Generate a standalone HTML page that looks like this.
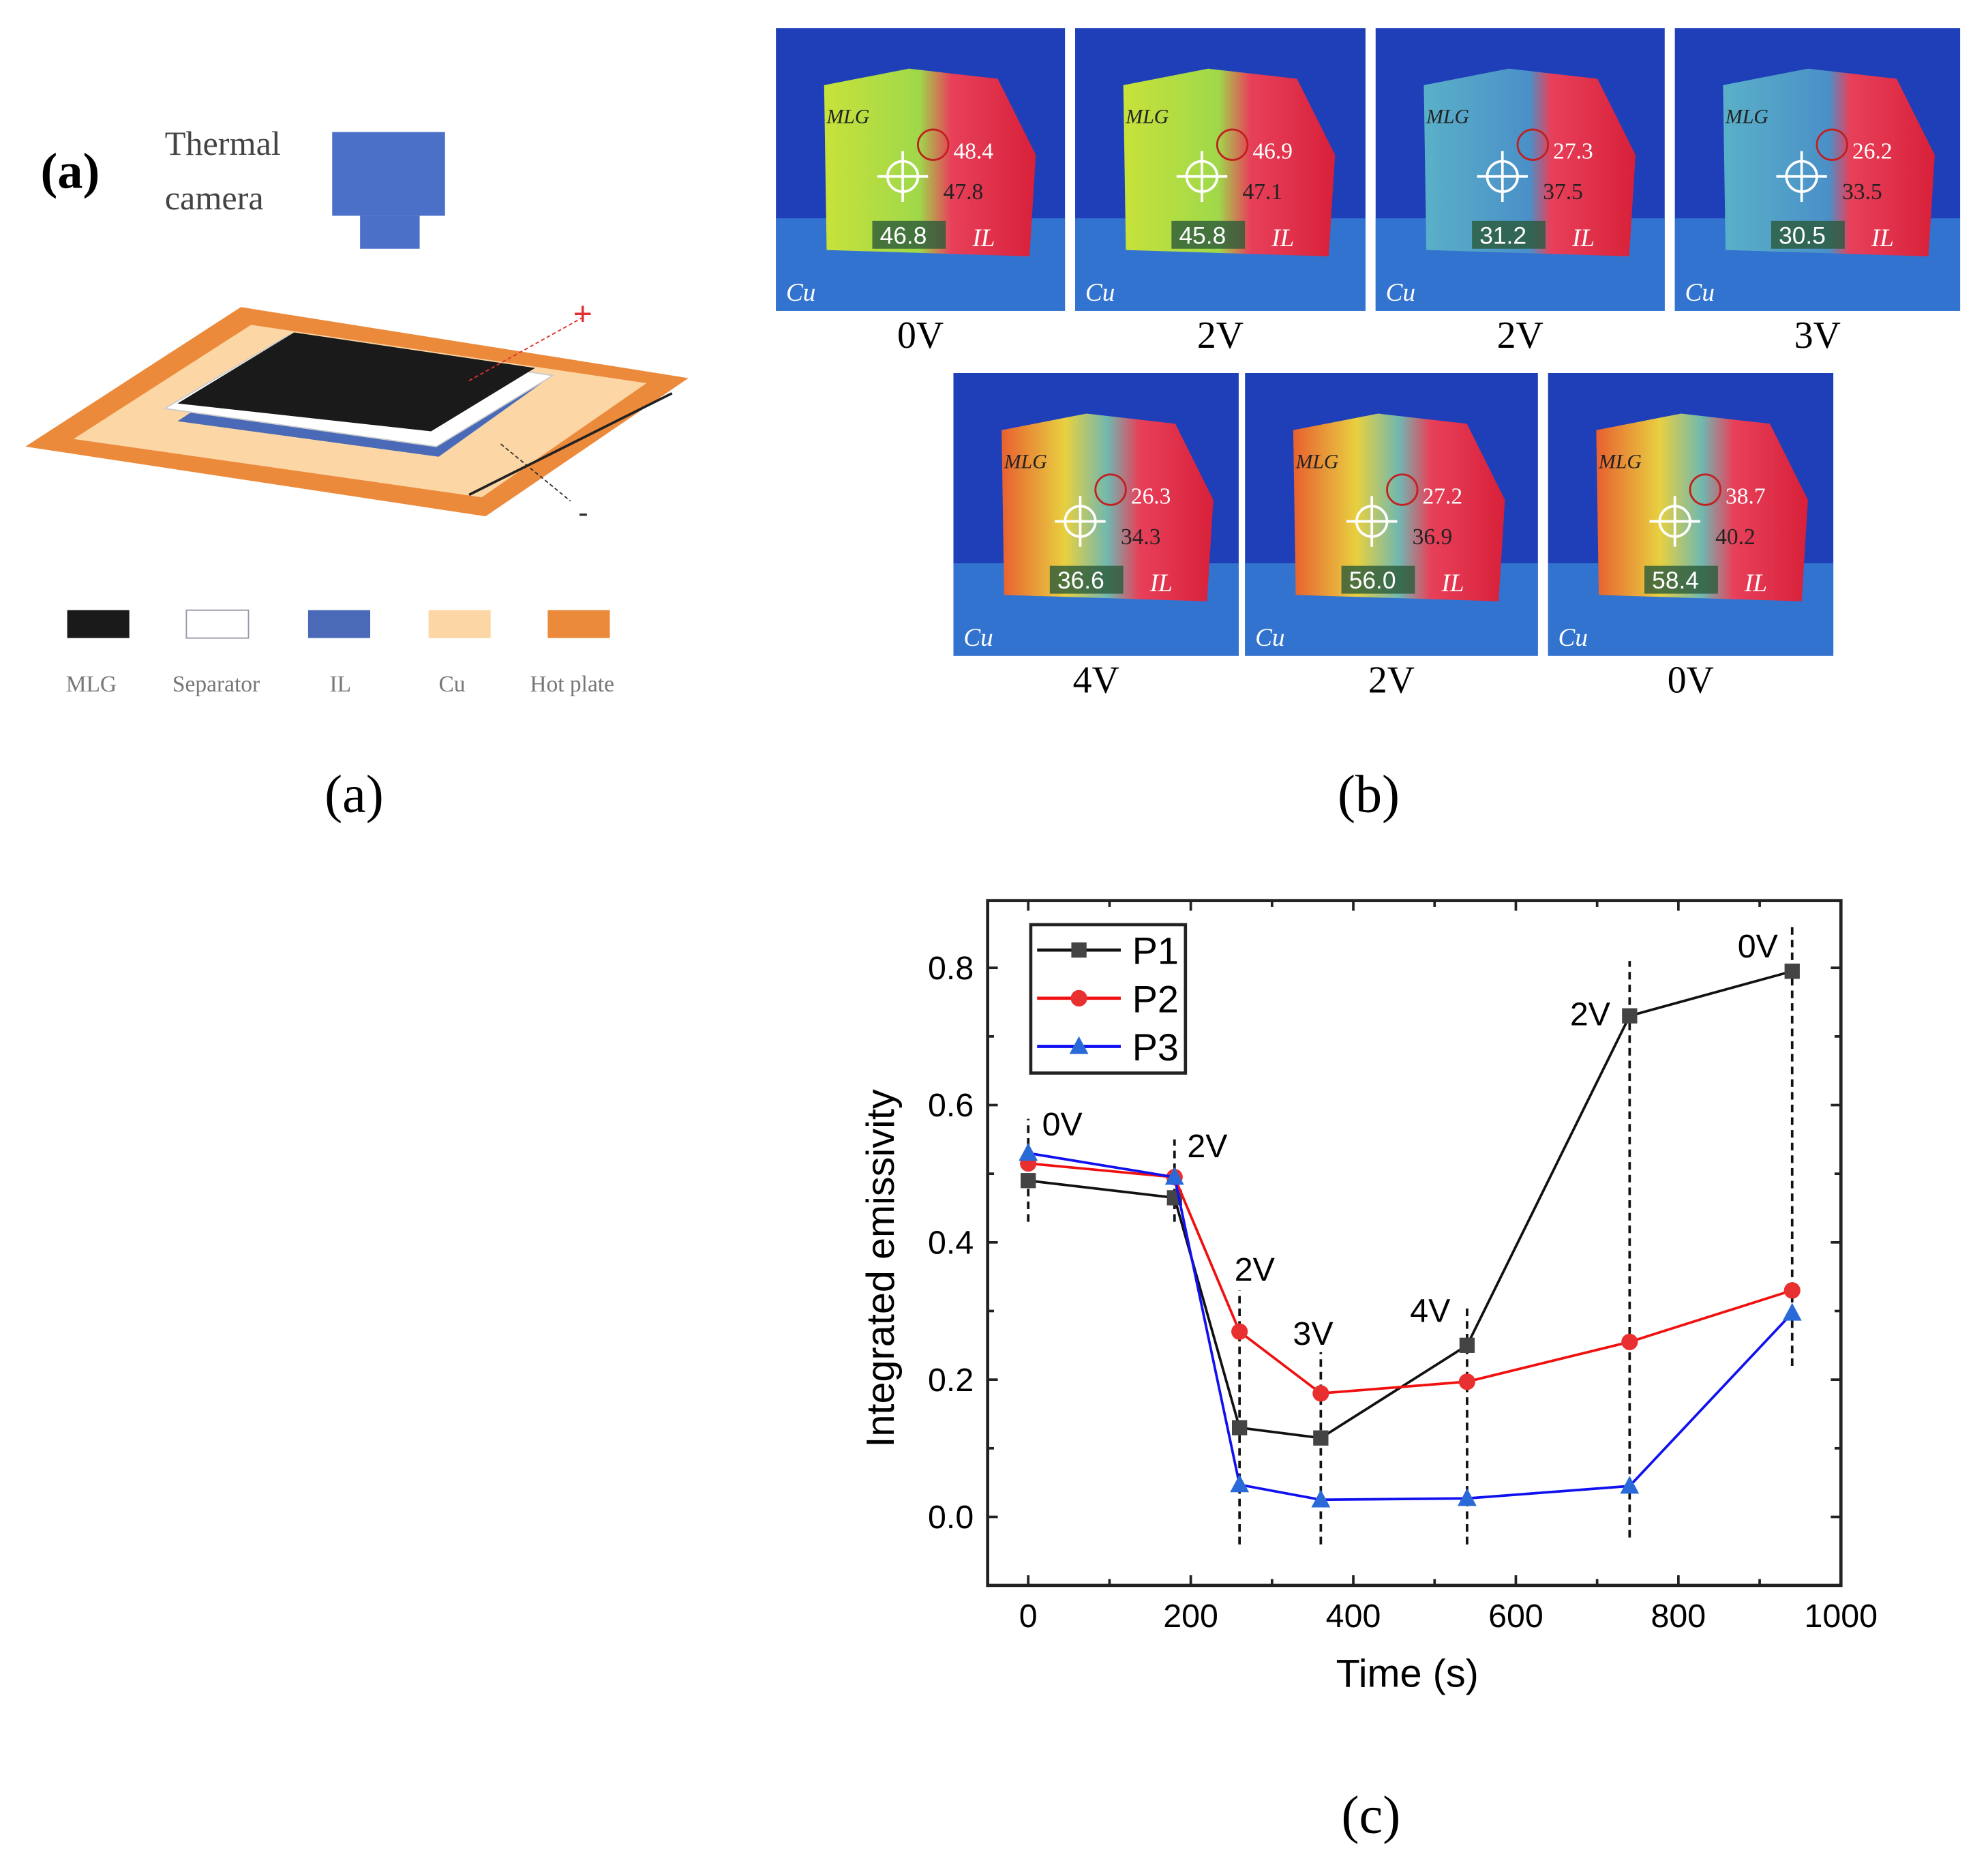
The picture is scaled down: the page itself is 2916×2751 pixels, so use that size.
<!DOCTYPE html>
<html><head><meta charset="utf-8">
<style>
html,body{margin:0;padding:0;background:#fff;}
svg{display:block;}
text{font-family:"Liberation Sans",sans-serif;}
.serif{font-family:"Liberation Serif",serif;}
</style></head>
<body>
<svg id="fig" width="2916" height="2751" viewBox="0 0 1568 1479" xmlns="http://www.w3.org/2000/svg">
<defs>
<linearGradient id="ir" x1="0" y1="0" x2="1" y2="0">
<stop offset="0" stop-color="#c8e23a"/><stop offset="0.45" stop-color="#9fd84a"/><stop offset="0.6" stop-color="#e8405a"/><stop offset="1" stop-color="#d8203a"/>
</linearGradient>
<linearGradient id="irc" x1="0" y1="0" x2="1" y2="0">
<stop offset="0" stop-color="#5ab0c8"/><stop offset="0.5" stop-color="#4a90c8"/><stop offset="0.6" stop-color="#e8405a"/><stop offset="1" stop-color="#d8203a"/>
</linearGradient>
<linearGradient id="irh" x1="0" y1="0" x2="1" y2="0">
<stop offset="0" stop-color="#e86030"/><stop offset="0.3" stop-color="#e8d040"/><stop offset="0.5" stop-color="#70b8b0"/><stop offset="0.65" stop-color="#e8405a"/><stop offset="1" stop-color="#d8203a"/>
</linearGradient>
</defs>

<g>
<text class="serif" x="32" y="148" font-size="40" font-weight="bold">(a)</text>
<text class="serif" x="130" y="122" font-size="27" fill="#444">Thermal</text>
<text class="serif" x="130" y="165" font-size="27" fill="#444">camera</text>
<rect x="262" y="104" width="89" height="66" fill="#4a70c8"/>
<rect x="284" y="170" width="47" height="26" fill="#4a70c8"/>
<polygon points="20,352 190,242 543,298 383,407" fill="#ec8a3c"/>
<polygon points="58,346 198,256 510,302 380,392" fill="#fcd6a4"/>
<polygon points="140,332 232,272 430,300 346,360" fill="#4a6ab8"/>
<polygon points="130,322 228,264 436,296 344,352" fill="#fff" stroke="#ccc"/>
<polygon points="140,318 232,262 422,290 340,340" fill="#1a1a1a"/>
<line x1="370" y1="300" x2="460" y2="250" stroke="#e03030" stroke-dasharray="3,2"/>
<text x="452" y="256" font-size="26" fill="#e03030">+</text>
<line x1="395" y1="350" x2="450" y2="395" stroke="#333" stroke-dasharray="3,2"/>
<text x="456" y="412" font-size="24" fill="#333">-</text>
<line x1="370" y1="390" x2="530" y2="310" stroke="#222" stroke-width="2"/>
<rect x="53" y="481" width="49" height="22" fill="#1a1a1a"/>
<rect x="147" y="481" width="49" height="22" fill="#fff" stroke="#99a" />
<rect x="243" y="481" width="49" height="22" fill="#4a6ab8"/>
<rect x="338" y="481" width="49" height="22" fill="#fcd6a4"/>
<rect x="432" y="481" width="49" height="22" fill="#ec8a3c"/>
<g class="serif" font-size="18" fill="#777">
<text class="serif" x="52" y="545">MLG</text><text class="serif" x="136" y="545">Separator</text>
<text class="serif" x="260" y="545">IL</text><text class="serif" x="346" y="545">Cu</text><text class="serif" x="418" y="545">Hot plate</text>
</g>
<text class="serif" x="256" y="640" font-size="42">(a)</text>
</g>

<g id="thermal"></g>
<text class="serif" x="1055" y="640" font-size="42">(b)</text>

<g id="chart"></g>
<text class="serif" x="1058" y="1445" font-size="42">(c)</text>
</svg>
<script>
const NS="http://www.w3.org/2000/svg";
function mk(p,t,a){const e=document.createElementNS(NS,t);for(const k in a)e.setAttribute(k,a[k]);p.appendChild(e);return e;}

const imgX=[612,848,1085,1321,752,982,1221];
const imgY=[22,22,22,22,294,294,294];
const imgW=[228,229,228,225,225,231,225];
const imgV=["0V","2V","2V","3V","4V","2V","0V"];
const imgP1=["46.8","45.8","31.2","30.5","36.6","56.0","58.4"];
const imgP2=["47.8","47.1","37.5","33.5","34.3","36.9","40.2"];
const imgP3=["48.4","46.9","27.3","26.2","26.3","27.2","38.7"];
const imgFill=["ir","ir","irc","irc","irh","irh","irh"];
const tg=document.getElementById('thermal');
for(let i=0;i<imgX.length;i++){
  const g=mk(tg,'g',{});
  
  
  const x=imgX[i],y=imgY[i],w=imgW[i];
  mk(g,'rect',{x:x,y:y,width:w,height:223,fill:'#1e3fb8'});
  mk(g,'rect',{x:x,y:y+150,width:w,height:73,fill:'#3a8ad8',opacity:0.7});
  mk(g,'polygon',{points:`${x+38},${y+45} ${x+105},${y+32} ${x+175},${y+40} ${x+205},${y+100} ${x+200},${y+180} ${x+40},${y+175}`,fill:'url(#'+imgFill[i]+')'});
  mk(g,'circle',{cx:x+100,cy:y+117,r:12,fill:'none',stroke:'#fff','stroke-width':2});
  mk(g,'line',{x1:x+80,x2:x+120,y1:y+117,y2:y+117,stroke:'#fff','stroke-width':2});
  mk(g,'line',{x1:x+100,x2:x+100,y1:y+97,y2:y+137,stroke:'#fff','stroke-width':2});
  mk(g,'circle',{cx:x+124,cy:y+92,r:12,fill:'none',stroke:'#c02020','stroke-width':1.5});
  mk(g,'rect',{x:x+76,y:y+152,width:58,height:22,fill:'#2a5a3a',opacity:0.8});
  const t1=mk(g,'text',{x:x+82,y:y+170,'font-size':19,fill:'#fff'});t1.textContent=imgP1[i];
  const t2=mk(g,'text',{x:x+132,y:y+135,'font-size':18,fill:'#222',class:'serif'});t2.textContent=imgP2[i];
  const t3=mk(g,'text',{x:x+140,y:y+103,'font-size':18,fill:'#fff',class:'serif'});t3.textContent=imgP3[i];
  const t4=mk(g,'text',{x:x+40,y:y+75,'font-size':16,fill:'#222','font-style':'italic',class:'serif'});t4.textContent='MLG';
  const t5=mk(g,'text',{x:x+8,y:y+215,'font-size':20,fill:'#fff','font-style':'italic',class:'serif'});t5.textContent='Cu';
  const t6=mk(g,'text',{x:x+155,y:y+172,'font-size':20,fill:'#fff','font-style':'italic',class:'serif'});t6.textContent='IL';
  const lb=mk(tg,'text',{x:x+w/2,y:y+252,'font-size':30,'text-anchor':'middle',class:'serif'});
  
  
  lb.textContent=imgV[i];
}

const times=[0,180,260,360,540,740,940];
const p1=[0.49,0.465,0.13,0.115,0.25,0.73,0.795];
const p2=[0.515,0.495,0.27,0.18,0.197,0.255,0.33];
const p3=[0.53,0.495,0.047,0.025,0.027,0.045,0.297];
const voltLabels=["0V","2V","2V","3V","4V","2V","0V"];
const voltLabelY=[0.556,0.524,0.344,0.251,0.284,0.716,0.815];
const voltLabelDx=[11,10,-4,-22,-45,-47,-43];
const xTicks=[0,200,400,600,800,1000];
const yTicks=[0.0,0.2,0.4,0.6,0.8];
const dashRanges=[[0.43,0.58],[0.43,0.55],[-0.04,0.33],[-0.04,0.24],[-0.04,0.31],[-0.03,0.81],[0.22,0.86]];

const L=779,R=1452,T=710,B=1250;
const X=v=>811+v*0.641;
const Y=v=>1196-v*541.25;
const c=document.getElementById('chart');
const frame=mk(c,'rect',{x:L,y:T,width:R-L,height:B-T,fill:'none',stroke:'#222','stroke-width':2.5});


for(let v=0;v<=1000;v+=100){
  const len=v%200===0?8:5;
  mk(c,'line',{x1:X(v),x2:X(v),y1:B,y2:B-len,stroke:'#222','stroke-width':2});
  mk(c,'line',{x1:X(v),x2:X(v),y1:T,y2:T+len,stroke:'#222','stroke-width':2});
}
xTicks.forEach(v=>{const t=mk(c,'text',{x:X(v),y:1283,'font-size':26,'text-anchor':'middle'});
  
  
  t.textContent=v;});
for(let v=-0.1;v<=0.85;v+=0.1){
  const len=Math.abs(Math.round(v*10))%2===0?8:5;
  mk(c,'line',{x1:L,x2:L+len,y1:Y(v),y2:Y(v),stroke:'#222','stroke-width':2});
  mk(c,'line',{x1:R,x2:R-len,y1:Y(v),y2:Y(v),stroke:'#222','stroke-width':2});
}
yTicks.forEach(v=>{const t=mk(c,'text',{x:768,y:Y(v)+9,'font-size':26,'text-anchor':'end'});
  
  
  t.textContent=v.toFixed(1);});
const xt=mk(c,'text',{x:1110,y:1330,'font-size':31,'text-anchor':'middle'});


xt.textContent='Time (s)';
const yt=mk(c,'text',{x:0,y:0,'font-size':31,'text-anchor':'middle',transform:'translate(705,1000) rotate(-90)'});


yt.textContent='Integrated emissivity';

times.forEach((t,i)=>{
  const d=mk(c,'line',{x1:X(t),x2:X(t),y1:Y(dashRanges[i][0]),y2:Y(dashRanges[i][1]),stroke:'#111','stroke-width':2,'stroke-dasharray':'6,4'});
  
  
});
times.forEach((t,i)=>{
  const lb=mk(c,'text',{x:X(t)+voltLabelDx[i],y:Y(voltLabelY[i]),'font-size':26});
  
  
  lb.textContent=voltLabels[i];
});

function series(vals,color,mcolor,shape,name){
  const g=mk(c,'g',{});
  
  
  mk(g,'polyline',{points:times.map((t,i)=>X(t)+','+Y(vals[i])).join(' '),fill:'none',stroke:color,'stroke-width':2});
  times.forEach((t,i)=>marker(g,X(t),Y(vals[i]),mcolor,shape,name));
}
function marker(g,x,y,col,shape,name){
  let m;
  if(shape==='s') m=mk(g,'rect',{x:x-6,y:y-6,width:12,height:12,fill:col});
  else if(shape==='c') m=mk(g,'circle',{cx:x,cy:y,r:6.5,fill:col});
  else m=mk(g,'polygon',{points:`${x},${y-8} ${x-7.5},${y+6} ${x+7.5},${y+6}`,fill:col});
  
  
  return m;
}
series(p1,'#111','#444','s','p1');
series(p2,'#f01010','#e83030','c','p2');
series(p3,'#1010f0','#2a6ad8','t','p3');

const lg=mk(c,'g',{});


mk(lg,'rect',{x:813,y:729,width:122,height:117,fill:'#fff',stroke:'#222','stroke-width':2.5});
const legN=['P1','P2','P3'],legC=['#111','#f01010','#1010f0'],legM=['#444','#e83030','#2a6ad8'],legS=['s','c','t'];
legN.forEach((n,i)=>{
  const y=749+i*38;
  const e=mk(lg,'g',{});
  
  
  mk(e,'line',{x1:818,x2:884,y1:y,y2:y,stroke:legC[i],'stroke-width':2.5});
  marker(e,851,y,legM[i],legS[i],'legend-'+n.toLowerCase());
  const t=mk(e,'text',{x:893,y:y+11,'font-size':30});t.textContent=n;
});
</script>
</body></html>
